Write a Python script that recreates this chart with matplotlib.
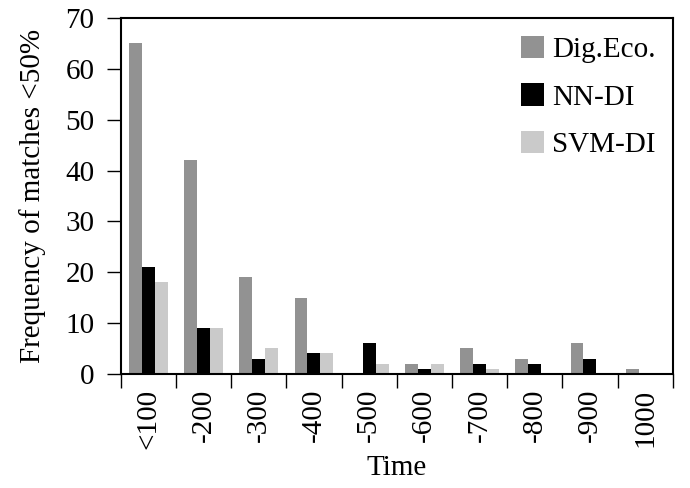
import matplotlib
matplotlib.use("Agg")
import matplotlib.pyplot as plt
import numpy as np

categories = ["<100", "-200", "-300", "-400", "-500", "-600", "-700", "-800", "-900", "1000"]
dig_eco = [65, 42, 19, 15, 0, 2, 5, 3, 6, 1]
nn_di = [21, 9, 3, 4, 6, 1, 2, 2, 3, 0]
svm_di = [18, 9, 5, 4, 2, 2, 1, 0, 0, 0]
series_names = ["Dig.Eco.", "NN-DI", "SVM-DI"]
colors = ["#929292", "#000000", "#cacaca"]

plt.rcParams['font.family'] = ['Liberation Serif', 'DejaVu Serif']
fs = 21
fig = plt.figure(figsize=(6.9, 4.88), dpi=100)
ax = fig.add_axes([0.175, 0.234, 0.8, 0.729])

x = np.arange(len(categories))
w = 0.234
for i, (vals, name, c) in enumerate(zip([dig_eco, nn_di, svm_di], series_names, colors)):
    ax.bar(x + (i - 1) * w, vals, width=w, color=c, label=name, zorder=2)

ax.set_xlim(-0.5, len(categories) - 0.5)
ax.set_ylim(0, 70)
ax.set_yticks(range(0, 71, 10))
ax.set_xticks(x)
ax.set_xticklabels(categories, rotation=90, fontsize=fs)
ax.set_xticks(np.arange(-0.5, len(categories)), minor=True)
ax.tick_params(axis='x', which='major', length=0, pad=11)
ax.tick_params(axis='x', which='minor', length=10, width=1, direction='out')
ax.tick_params(axis='y', labelsize=fs, length=10, width=1, direction='out', pad=9)
for s in ax.spines.values():
    s.set_linewidth(1.5)

ax.set_ylabel("Frequency of matches <50%", fontsize=fs, labelpad=14)
ax.set_xlabel("Time", fontsize=fs, labelpad=4)

ax.legend(loc='upper right', frameon=False, fontsize=fs, handlelength=0.8, handleheight=0.8,
          handletextpad=0.25, labelspacing=0.7, borderaxespad=0.3, borderpad=0.3)

fig.savefig("out.png", dpi=100)
